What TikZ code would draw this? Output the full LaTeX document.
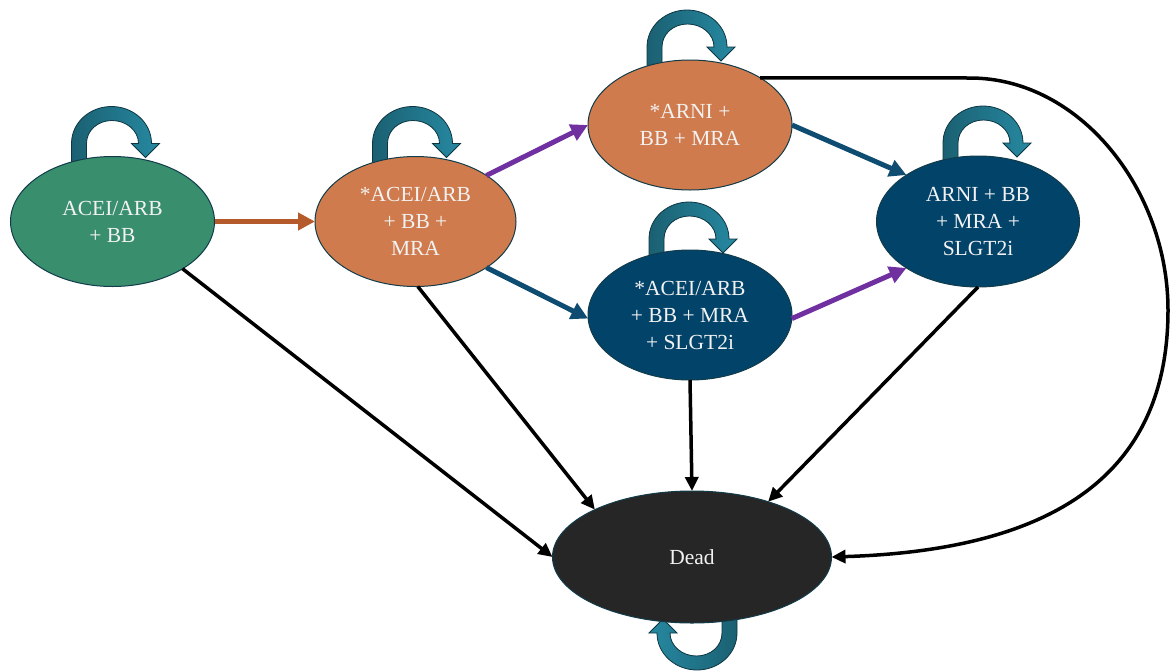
\documentclass[tikz,border=0pt]{standalone}
\usepackage{fontspec}
\setmainfont{Liberation Serif}
\usetikzlibrary{shapes.geometric,arrows.meta,calc}
\pgfdeclarelayer{background}
\pgfsetlayers{background,main}
\definecolor{cgreen}{HTML}{388E6D}
\definecolor{corange}{HTML}{D07B4D}
\definecolor{cblue}{HTML}{02436A}
\definecolor{cdead}{HTML}{262626}
\definecolor{cborder}{HTML}{123C4A}
\definecolor{ctext}{HTML}{F2F2F2}
\definecolor{cbrown}{HTML}{B55A2A}
\definecolor{cpurple}{HTML}{7030A0}
\definecolor{cdblue}{HTML}{0F4C72}
\definecolor{cloopA}{HTML}{1B6072}
\definecolor{cloopB}{HTML}{2689A1}
\definecolor{cloopline}{HTML}{0E3642}
\tikzset{
  state/.style={ellipse, draw=cborder, line width=1pt, inner sep=0pt, outer sep=0pt,
    minimum width=204pt, minimum height=130pt, text=ctext, align=center,
    font=\fontsize{21.5}{27}\selectfont},
  loopfill/.style={left color=cloopA, right color=cloopB},
  pics/selfloop/.style={code={
    \path[draw=cloopline, line width=0.8pt, loopfill]
      (-41,20) -- (-41,0)
      .. controls (-41,-21) and (-22.6,-37) .. (-1,-37)
      .. controls (20.6,-37) and (39,-21) .. (39,0)
      -- (47,0) -- (33,14) -- (19,0) -- (26,0)
      .. controls (26,-13) and (13.8,-23) .. (-0.5,-23)
      .. controls (-14.8,-23) and (-26,-13) .. (-26,0) -- (-26,20) -- cycle;
  }},
  colarrow/.style={line width=5pt, -{Triangle[length=17pt,width=17pt]}},
  blkarrow/.style={line width=3.5pt, black, -{Triangle[length=14pt,width=13pt]}},
}
\begin{document}
\begin{tikzpicture}[x=1pt,y=-1pt]
\useasboundingbox (0,0) rectangle (1173,670);
\node[state, fill=cgreen] (A) at (112.5,221.5) {ACEI/ARB\\+ BB};
\node[state, fill=corange, minimum width=201pt] (B) at (415.5,221.5) {*ACEI/ARB\\+ BB +\\MRA};
\node[state, fill=corange] (C) at (690,125) {*ARNI +\\BB + MRA};
\node[state, fill=cblue] (D) at (690,315) {*ACEI/ARB\\+ BB + MRA\\+ SLGT2i};
\node[state, fill=cblue, minimum width=203pt, minimum height=131pt] (E) at (978,221.5) {ARNI + BB\\+ MRA +\\SLGT2i};
\node[state, fill=cdead, minimum width=279pt, minimum height=132pt] (X) at (692,557) {Dead};

\begin{pgfonlayer}{background}
\pic at ($(A.north)+(0,-13)$) {selfloop};
\pic at ($(B.north)+(-2,-13)$) {selfloop};
\pic at ($(C.north)+(-2,-13)$) {selfloop};
\pic at ($(D.north)+(0,-11)$) {selfloop};
\pic at ($(E.north)+(6,-13)$) {selfloop};
\pic[rotate=180, loopfill/.style={left color=cloopB, right color=cloopA}] at ($(X.south)+(4,10)$) {selfloop};
\end{pgfonlayer}

\draw[colarrow, cbrown] (A.east) -- (B.west);
\draw[colarrow, cpurple] (B.33) -- (C.west);
\draw[colarrow, cdblue] (B.-33) -- (D.182);
\draw[colarrow, cdblue] (C.east) -- (E.147);
\draw[colarrow, cpurple] (D.-2) -- (E.213);

\draw[blkarrow] (A.-34) -- (X.west);
\draw[blkarrow] (B.-88) -- (X.154);
\draw[blkarrow] (D.south) -- (X.north);
\draw[blkarrow] (E.south) -- (X.36);
\draw[blkarrow] (C.34) -- (970,78) .. controls (1080,78) and (1168,190) .. (1168,310)
   .. controls (1168,470) and (1060,550) .. (X.east);
\end{tikzpicture}
\end{document}
